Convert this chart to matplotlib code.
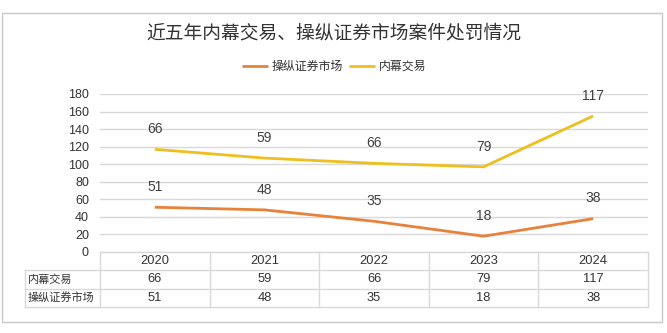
import matplotlib.pyplot as plt
from matplotlib.patches import Rectangle

plt.rcParams['font.family'] = ['Liberation Sans', 'Noto Sans CJK SC', 'DejaVu Sans']

years = ['2020', '2021', '2022', '2023', '2024']
manip = [51, 48, 35, 18, 38]       # 操纵证券市场
insider = [66, 59, 66, 79, 117]    # 内幕交易
name_manip = '操纵证券市场'
name_insider = '内幕交易'
title = '近五年内幕交易、操纵证券市场案件处罚情况'

c_orange = '#E8823A'
c_yellow = '#EEBF1E'
grid_c = '#d9d9d9'

W, H = 667, 333
fig = plt.figure(figsize=(W / 100, H / 100), dpi=100)

def box(l, t, r, b):
    return [l / W, 1 - b / H, (r - l) / W, (b - t) / H]

# outer frame
fig.patches.append(Rectangle((2 / W, 1 - 322 / H), 660 / W, 309 / H, transform=fig.transFigure,
                             fill=False, edgecolor='#c9c9c9', linewidth=1))

fig.text(334 / W, 1 - 33 / H, title, ha='center', va='center', fontsize=13.5, color='#333333')

ax = fig.add_axes(box(100, 94, 648, 252))
x = list(range(len(years)))
stacked = [m + i for m, i in zip(manip, insider)]
l1, = ax.plot(x, manip, color=c_orange, linewidth=2, solid_capstyle='butt')
l2, = ax.plot(x, stacked, color=c_yellow, linewidth=2, solid_capstyle='butt')
for xi, yv, lab in zip(x, manip, manip):
    ax.annotate(str(lab), (xi, yv), xytext=(0, 9.5), textcoords='offset points',
                ha='center', va='bottom', fontsize=10, color='#404040')
for xi, yv, lab in zip(x, stacked, insider):
    ax.annotate(str(lab), (xi, yv), xytext=(0, 9.5), textcoords='offset points',
                ha='center', va='bottom', fontsize=10, color='#404040')
ax.set_xlim(-0.5, len(years) - 0.5)
ax.set_ylim(0, 180)
ax.set_yticks(range(0, 181, 20))
ax.set_xticks([])
ax.grid(axis='y', color=grid_c, linewidth=1)
ax.set_axisbelow(True)
for s in ax.spines.values():
    s.set_visible(False)
ax.tick_params(axis='y', length=0, labelsize=9, pad=8, labelcolor='#333333')

fig.legend([l1, l2], [name_manip, name_insider], loc='center', bbox_to_anchor=(334 / W, 1 - 67 / H),
           ncol=2, frameon=False, fontsize=8.6, handlelength=2.2, handletextpad=0.3,
           columnspacing=0.5, labelcolor='#333333')

# data table
tx = fig.add_axes(box(100, 252, 648, 307))
tx.set_xlim(-0.5, len(years) - 0.5)
tx.set_ylim(3, 0)
tx.axis('off')
left = -0.5 - 75 / 110
kw = dict(color=grid_c, linewidth=1, clip_on=False)
tx.plot([-0.5, 4.5], [0, 0], **kw)
for r in (1, 2, 3):
    tx.plot([left, 4.5], [r, r], **kw)
tx.plot([left, left], [1, 3], **kw)
for c in range(len(years) + 1):
    tx.plot([c - 0.5, c - 0.5], [0, 3], **kw)
rows = [(name_insider, insider), (name_manip, manip)]
for ci, yr in enumerate(years):
    tx.text(ci, 0.5, yr, ha='center', va='center', fontsize=9.3, color='#333333')
for ri, (nm, vals) in enumerate(rows, start=1):
    tx.text(left + 0.02, ri + 0.5, nm, ha='left', va='center', fontsize=8, color='#333333')
    for ci, v in enumerate(vals):
        tx.text(ci, ri + 0.5, str(v), ha='center', va='center', fontsize=9.3, color='#333333')

fig.savefig('out.png', dpi=100)
